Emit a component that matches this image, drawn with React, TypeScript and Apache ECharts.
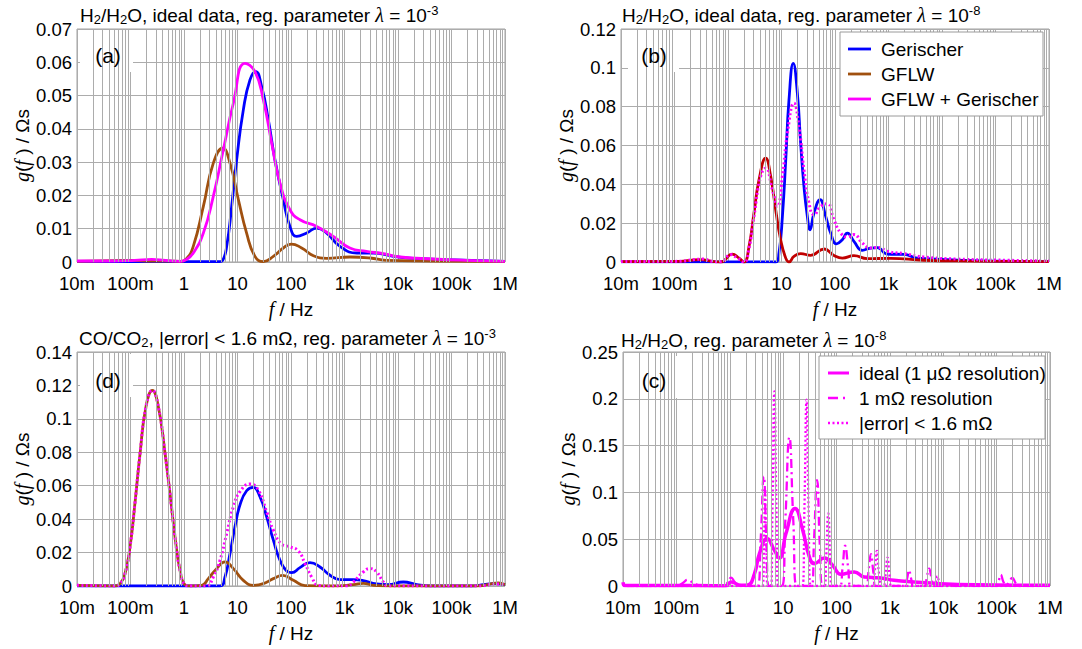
import React, { useEffect, useRef } from 'react';
import * as echarts from 'echarts';

// ---------- tick labels / axes ----------
const X_LABELS = ['10m', '100m', '1', '10', '100', '1k', '10k', '100k', '1M'];
const DECADES = [0.01, 0.1, 1, 10, 100, 1000, 10000, 100000];
const MINOR_MULT = [2, 3, 4, 5, 6, 7, 8, 9];
const Y_MAX = [0.07, 0.12, 0.14, 0.25];
const Y_INTERVAL = [0.01, 0.02, 0.02, 0.05];

// ---------- data: [frequency in Hz, g(f) in Ohm*s] ----------
// (a) H2/H2O ideal, lambda 1e-3
const A_GERISCHER = [[0.01,0.0001],[0.5,0.0001],[2,0.0001],[4.6,0.0001],[5.3,0.0005],[6.28,0.0047],[7.78,0.0167],[9.64,0.0307],[12.85,0.0457],[17.1,0.0547],[21.9,0.0572],[28.3,0.0527],[37.7,0.0427],[50.1,0.0307],[71.9,0.0187],[95.5,0.0107],[128,0.0077],[196,0.0087],[302,0.0102],[465,0.0087],[824,0.0047],[1700,0.0027],[3470,0.0027],[8130,0.0017],[20000,0.0011],[80000,0.0007],[1e6,0.0002]];
const A_GFLW = [[0.01,0.0002],[0.05,0.0004],[0.1,0.0005],[0.2,0.0003],[0.4,0.0003],[0.84,0.0002],[1.1,0.0009],[1.49,0.0047],[2.3,0.0167],[3.53,0.0297],[5.28,0.0342],[7.24,0.0297],[10.4,0.0187],[14.8,0.0087],[21.2,0.0017],[30.4,0.0001],[46.8,0.0017],[71.9,0.0042],[102,0.0054],[158,0.0042],[263,0.0019],[465,0.0011],[1259,0.0015],[3020,0.0012],[6000,0.0005],[45700,0.0003],[1e6,0.0001]];
const A_SUM = [[0.01,0.0003],[0.05,0.0003],[0.12,0.0005],[0.25,0.0008],[0.45,0.0005],[0.84,0.0002],[1.1,0.0007],[1.49,0.0027],[2.3,0.0087],[3.53,0.0197],[5.43,0.0337],[8.36,0.0477],[13.8,0.0597],[21.2,0.0572],[30.4,0.0487],[43.6,0.0357],[62.2,0.0237],[95.5,0.0157],[147,0.0127],[302,0.0107],[617,0.0077],[1259,0.0042],[2570,0.0032],[5370,0.0025],[11000,0.0015],[45700,0.0009],[190000,0.0005],[1e6,0.0002]];

// (b) H2/H2O ideal, lambda 1e-8
const B_GERISCHER = [[0.01,0.0001],[1,0.0001],[5,0.0001],[7.8,0],[8.97,0.0046],[10.4,0.0235],[12,0.0526],[13.8,0.0835],[16.6,0.1023],[19.8,0.0869],[22.8,0.0612],[26.3,0.0389],[30.4,0.0235],[34.1,0.0166],[40.5,0.0252],[52.5,0.0321],[67,0.0235],[83,0.0149],[107,0.0093],[137,0.0115],[170,0.0149],[226,0.0106],[324,0.006],[464,0.0072],[618,0.0074],[951,0.0041],[1950,0.0039],[3470,0.002],[9440,0.0014],[40000,0.0007],[1e6,0.0002]];
const B_GFLW = [[0.01,0.0002],[0.1,0.0003],[0.31,0.0012],[0.5,0.0003],[0.73,0],[1.2,0.0041],[1.61,0.002],[2,0],[2.47,0.008],[3.06,0.0252],[3.8,0.0423],[5.06,0.0535],[6.28,0.0441],[7.78,0.0269],[9.64,0.0115],[12,0.002],[13.8,0],[17.1,0.0029],[22.8,0.0043],[35.1,0.0034],[62.2,0.0067],[95.5,0.0034],[137,0.002],[226,0.0033],[402,0.0017],[1100,0.0019],[4570,0.0009],[40000,0.0005],[1e6,0.0002]];
const B_SUM = [[0.01,0.0002],[0.1,0.0003],[0.35,0.0015],[0.5,0.0004],[0.73,0.0001],[1.13,0.0038],[1.5,0.002],[2,0],[2.47,0.007],[3.06,0.0235],[4.07,0.044],[5.06,0.0483],[6.75,0.0372],[8.36,0.0286],[10.4,0.044],[12.9,0.0663],[17.1,0.0818],[21.2,0.0698],[26.3,0.0475],[32.7,0.0303],[40.5,0.0243],[54,0.0286],[72,0.03],[95.5,0.0218],[128,0.0149],[170,0.0129],[226,0.0141],[324,0.0098],[464,0.0072],[664,0.0075],[951,0.0055],[1950,0.0043],[4570,0.0026],[19500,0.0015],[166000,0.0009],[1e6,0.0005]];

// (d) CO/CO2, |error| < 1.6 mOhm, lambda 1e-3
const D_GERISCHER = [[0.01,0],[1,0],[4.7,0],[5.84,0.0054],[7.24,0.0194],[8.97,0.0354],[11.1,0.0484],[14.8,0.057],[19.8,0.059],[26.3,0.0534],[35.1,0.0414],[46.8,0.0274],[62.2,0.0154],[83,0.009],[103,0.008],[147,0.011],[226,0.014],[348,0.0114],[536,0.0064],[824,0.0038],[1462,0.0038],[2240,0.0032],[3980,0.0012],[6500,0.0008],[12600,0.0024],[22400,0.0008],[40000,0],[250000,0],[400000,0.0008],[600000,0.0014],[1e6,0.0008]];
const D_GFLW = [[0.01,0.0004],[0.03,0.0001],[0.05,0],[0.064,0.0014],[0.079,0.0074],[0.098,0.0234],[0.121,0.0494],[0.151,0.0794],[0.195,0.1074],[0.256,0.117],[0.331,0.1074],[0.442,0.0794],[0.547,0.0554],[0.679,0.0294],[0.841,0.0094],[1.04,0.0008],[1.3,0],[2.14,0.0004],[2.85,0.0044],[4.08,0.0104],[5.84,0.0144],[8.36,0.0104],[12.85,0.0034],[19.8,0.0004],[30.4,0.0014],[46.8,0.0044],[69.8,0.0064],[111,0.0034],[183,0.0002],[600,0],[1462,0.0008],[2240,0.0016],[3500,0.0004],[8000,0],[300000,0],[750000,0.0018],[1e6,0.0008]];
const D_SUM = [[0.01,0.0004],[0.03,0.0001],[0.05,0],[0.064,0.0014],[0.079,0.0074],[0.098,0.0234],[0.121,0.0494],[0.151,0.0794],[0.195,0.1074],[0.256,0.117],[0.331,0.1074],[0.442,0.0794],[0.547,0.0554],[0.679,0.0294],[0.841,0.0094],[1.04,0.0008],[1.3,0],[2.6,0],[3.53,0.0054],[4.71,0.0154],[6.28,0.0314],[8.36,0.0474],[11.1,0.0564],[17.1,0.061],[24.5,0.0574],[35.1,0.0444],[46.8,0.0334],[67,0.025],[95.5,0.0234],[137,0.021],[183,0.0134],[243,0.0054],[324,0.0004],[500,0],[1100,0],[1462,0.0024],[2240,0.0084],[3000,0.0104],[3980,0.0084],[5320,0.0024],[6500,0],[300000,0],[750000,0.0012],[1e6,0.0008]];

// (c) H2/H2O, lambda 1e-8
const C_IDEAL = [[0.01,0.004],[0.011,0.0005],[0.1,0.0005],[0.5,0.0003],[0.84,0.0002],[1.06,0.0043],[1.63,0.0007],[2.18,0.001],[2.9,0.013],[3.6,0.0346],[5.01,0.0507],[6.87,0.038],[8.51,0.03],[11.3,0.056],[16.7,0.0829],[23.3,0.0596],[31,0.0311],[38.5,0.0239],[59.2,0.03],[84.7,0.0221],[121,0.0125],[215,0.015],[331,0.0096],[678,0.0086],[1200,0.0061],[2850,0.0043],[8950,0.0025],[40000,0.0014],[1e6,0.0007]];
const C_1MOHM = [[0.01,0.001],[0.012,0],[0.1,0],[0.13,0.003],[0.165,0.0068],[0.21,0.003],[0.3,0.0005],[0.8,0.0005],[0.93,0.005],[1.06,0.009],[1.25,0.004],[1.6,0],[3.3,0],[3.8,0.05],[4.33,0.117],[4.9,0.04],[5.4,0],[9.5,0],[11,0.07],[13.1,0.159],[15.5,0.07],[18,0],[34,0],[38,0.05],[43.2,0.113],[49,0.04],[55,0],[115,0],[130,0.02],[145,0.043],[165,0.02],[185,0],[360,0],[400,0.017],[442,0.034],[490,0.015],[540,0],[1900,0],[2100,0.008],[2290,0.017],[2500,0.008],[2800,0],[4500,0],[4900,0.009],[5430,0.0186],[6000,0.009],[6700,0],[100000,0],[110000,0.006],[119000,0.012],[135000,0.004],[150000,0.001],[170000,0.004],[197000,0.0086],[230000,0.003],[270000,0],[1e6,0]];
const C_ERROR = [[0.01,0],[4.1,0],[4.4,0.05],[4.59,0.104],[4.8,0.05],[5.2,0],[5.9,0],[6.3,0.08],[6.87,0.208],[7.5,0.08],[8.1,0],[23,0],[25,0.08],[27.5,0.199],[30,0.08],[33,0],[60,0],[64,0.03],[70.3,0.0775],[76,0.03],[82,0],[480,0],[520,0.015],[572,0.0375],[620,0.015],[700,0],[760,0],[830,0.012],[904,0.0304],[980,0.012],[1080,0],[6700,0],[7200,0.004],[7760,0.0104],[8400,0.004],[9000,0],[1e6,0]];

// ---------- legends ----------
const LEGEND_B = ['Gerischer', 'GFLW', 'GFLW + Gerischer'];
const LEGEND_C = ['ideal (1 μΩ resolution)', '1 mΩ resolution', '|error| < 1.6 mΩ'];

// ---------- styles ----------
const SANS = '"Liberation Sans", Arial, Helvetica, sans-serif';
const SERIF = '"Liberation Serif", "Times New Roman", serif';
const GRID_C = '#acacac';
const BLUE = '#0000ff';
const BROWN = '#a0500f';
const RED = '#c00000';
const MAGENTA = '#ff00ff';
const DOT = [2, 2.5];
const DASHDOT = [9, 4, 2, 4];
const LW = 2.8;

const GRIDS = [
  { left: 77, top: 29, width: 428, height: 233 },
  { left: 621, top: 29, width: 428, height: 233 },
  { left: 77, top: 352, width: 428, height: 234 },
  { left: 623, top: 352, width: 427, height: 234 },
];

const TITLE_RICH = {
  n: { fontSize: 19, fontFamily: SANS, fill: '#000', color: '#000', lineHeight: 22 },
  s: { fontSize: 13, fontFamily: SANS, fill: '#000', color: '#000', lineHeight: 12, verticalAlign: 'bottom' },
  p: { fontSize: 13, fontFamily: SANS, fill: '#000', color: '#000', lineHeight: 12, verticalAlign: 'top' },
  l: { fontSize: 20, fontFamily: SERIF, fontStyle: 'italic', fill: '#000', color: '#000', lineHeight: 22 },
};

const TITLES = [
  { x: 80, y: 15, text: '{n|H}{s|2}{n|/H}{s|2}{n|O, ideal data, reg. parameter }{l|λ}{n| = 10}{p|-3}' },
  { x: 622, y: 15, text: '{n|H}{s|2}{n|/H}{s|2}{n|O, ideal data, reg. parameter }{l|λ}{n| = 10}{p|-8}' },
  { x: 79, y: 338, text: '{n|CO/CO}{s|2}{n|, |error| < 1.6 mΩ, reg. parameter }{l|λ}{n| = 10}{p|-3}' },
  { x: 621, y: 340, text: '{n|H}{s|2}{n|/H}{s|2}{n|O, reg. parameter }{l|λ}{n| = 10}{p|-8}' },
];

const PANEL_LABELS = [
  { text: '(a)', box: [80, 30, 53, 42], cx: 108, cy: 55 },
  { text: '(b)', box: [628, 30, 51, 42], cx: 654, cy: 55 },
  { text: '(d)', box: [80, 354, 53, 43], cx: 108, cy: 380 },
  { text: '(c)', box: [624, 356, 55, 42], cx: 654, cy: 380 },
];

const NAME_RICH = {
  i: { fontFamily: SERIF, fontStyle: 'italic', fontSize: 20, color: '#000' },
  n: { fontFamily: SANS, fontSize: 19, color: '#000' },
};

function line(name: string, idx: number, data: number[][], color: string, width: number, type: any, z = 3) {
  return {
    type: 'line', name, xAxisIndex: idx, yAxisIndex: idx, data,
    showSymbol: false, symbol: 'none', smooth: 0.5,
    lineStyle: { color, width, type }, itemStyle: { color },
    emphasis: { disabled: true }, z, clip: true,
  };
}

function legendGraphic(box: number[], names: string[], styles: any[], x1: number, x2: number, tx: number, y0: number, dy: number) {
  const els: any[] = [
    { type: 'rect', z: 20, shape: { x: box[0], y: box[1], width: box[2], height: box[3] }, style: { fill: '#fff', stroke: '#9a9a9a', lineWidth: 1 } },
  ];
  names.forEach((n, k) => {
    const y = y0 + k * dy;
    els.push({ type: 'line', z: 21, shape: { x1, y1: y, x2, y2: y }, style: { stroke: styles[k].color, lineWidth: styles[k].width, lineDash: styles[k].dash } });
    els.push({ type: 'text', z: 21, x: tx, y, style: { text: n, fontSize: 19, fontFamily: SANS, fill: '#000', verticalAlign: 'middle', textVerticalAlign: 'middle' } });
  });
  return els;
}

export default function App() {
  const ref = useRef<HTMLDivElement>(null);
  useEffect(() => {
    if (!ref.current) return;
    const chart = echarts.init(ref.current, undefined, { renderer: 'svg' });
    const minor: number[] = [];
    DECADES.forEach((d) => MINOR_MULT.forEach((m) => minor.push(d * m)));

    const xAxis = GRIDS.map((_, i) => ({
      type: 'log', logBase: 10, gridIndex: i, min: 0.01, max: 1e6, splitNumber: 8,
      axisLine: { show: false }, axisTick: { show: false },
      splitLine: { show: true, lineStyle: { color: GRID_C, width: 1 } },
      axisLabel: {
        fontSize: 18.5, fontFamily: SANS, color: '#000', margin: 12,
        showMinLabel: true, showMaxLabel: true,
        formatter: (v: number) => X_LABELS[Math.round(Math.log10(v)) + 2] ?? '',
      },
      name: '{i|f}{n| / Hz}', nameLocation: 'middle', nameGap: 37,
      nameTextStyle: { rich: NAME_RICH },
    }));
    const yAxis = GRIDS.map((_, i) => ({
      type: 'value', gridIndex: i, min: 0, max: Y_MAX[i], interval: Y_INTERVAL[i],
      axisLine: { show: false }, axisTick: { show: false },
      splitLine: { show: true, lineStyle: { color: GRID_C, width: 1 } },
      axisLabel: { fontSize: 18.5, fontFamily: SANS, color: '#000', margin: 5 },
      name: '{i|g}{n|(}{i|f}{n| ) / Ωs}', nameLocation: 'middle', nameGap: 44, nameRotate: 90,
      nameTextStyle: { rich: NAME_RICH },
    }));

    const minorSeries = GRIDS.map((_, i) => ({
      type: 'line', name: '__minor' + i, xAxisIndex: i, yAxisIndex: i, data: [], z: 1, silent: true,
      markLine: {
        silent: true, symbol: ['none', 'none'], label: { show: false },
        lineStyle: { color: GRID_C, width: 1, type: 'solid' }, emphasis: { disabled: true },
        data: minor.map((v) => ({ xAxis: v })),
      },
    }));

    const series: any[] = [
      ...minorSeries,
      line(LEGEND_B[0], 0, A_GERISCHER, BLUE, LW, 'solid'),
      line(LEGEND_B[1], 0, A_GFLW, BROWN, LW, 'solid'),
      line(LEGEND_B[2], 0, A_SUM, MAGENTA, LW, 'solid', 4),
      line(LEGEND_B[0], 1, B_GERISCHER, BLUE, LW, 'solid'),
      line(LEGEND_B[1], 1, B_GFLW, RED, LW, 'solid'),
      line(LEGEND_B[2], 1, B_SUM, MAGENTA, 3, DOT, 4),
      line(LEGEND_B[0], 2, D_GERISCHER, BLUE, LW, 'solid'),
      line(LEGEND_B[1], 2, D_GFLW, BROWN, LW, 'solid'),
      line(LEGEND_B[2], 2, D_SUM, MAGENTA, 3, DOT, 4),
      line(LEGEND_C[0], 3, C_IDEAL, MAGENTA, 3.5, 'solid', 4),
      line(LEGEND_C[1], 3, C_1MOHM, MAGENTA, 2.3, DASHDOT),
      line(LEGEND_C[2], 3, C_ERROR, MAGENTA, 2.3, DOT),
    ];

    const graphic: any[] = [];
    TITLES.forEach((t) => graphic.push({
      type: 'text', x: t.x, y: t.y, z: 10,
      style: { text: t.text, rich: TITLE_RICH, fill: '#000', verticalAlign: 'middle', textVerticalAlign: 'middle' },
    }));
    PANEL_LABELS.forEach((p) => {
      graphic.push({ type: 'rect', z: 5, shape: { x: p.box[0], y: p.box[1], width: p.box[2], height: p.box[3] }, style: { fill: '#fff' } });
      graphic.push({
        type: 'text', x: p.cx, y: p.cy, z: 6,
        style: { text: p.text, fontSize: 21, fontFamily: SANS, fill: '#000', align: 'center', textAlign: 'center', verticalAlign: 'middle', textVerticalAlign: 'middle' },
      });
    });
    graphic.push(...legendGraphic([840, 32, 203, 84], LEGEND_B, [
      { color: BLUE, width: LW, dash: null },
      { color: BROWN, width: LW, dash: null },
      { color: MAGENTA, width: LW, dash: null },
    ], 848, 871, 881, 49, 25));
    graphic.push(...legendGraphic([819, 356, 226, 83], LEGEND_C, [
      { color: MAGENTA, width: 3, dash: null },
      { color: MAGENTA, width: 2.3, dash: [10, 5, 2, 5] },
      { color: MAGENTA, width: 2.3, dash: [2, 2.5] },
    ], 828, 849, 859, 373, 25));

    chart.setOption({
      animation: false,
      backgroundColor: '#fff',
      grid: GRIDS.map((g) => ({ ...g, show: true, borderColor: '#a0a0a0', borderWidth: 1, backgroundColor: 'transparent' })),
      xAxis, yAxis, series,
      graphic,
    });
    return () => chart.dispose();
  }, []);
  return <div ref={ref} style={{ position: 'absolute', left: 0, top: 0, width: 1082, height: 649 }} />;
}
